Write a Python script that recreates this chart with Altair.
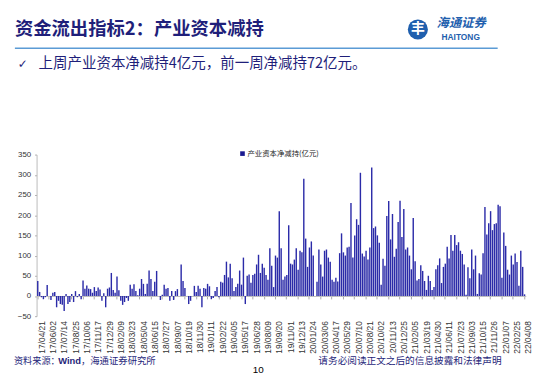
import altair as alt
import pandas as pd

# ---------------- text ----------------
title_text = "资金流出指标2：产业资本减持"
bullet_mark = "✓"
bullet_text = "上周产业资本净减持4亿元，前一周净减持72亿元。"
legend_label = "产业资本净减持(亿元)"
source_a = "资料来源："
source_b = "Wind"
source_c = "，海通证券研究所"
disclaimer = "请务必阅读正文之后的信息披露和法律声明"
page_no = "10"
logo_cn = "海通证券"
logo_en = "HAITONG"
logo_glyph = "丰"

# ---------------- data (weekly, 亿元) ----------------
values_a = [37, 10, -3, -8, -3, 27, 0, -10, 8, 10,
            -28, -12, -20, -22, -37, 5, -20, -15, 5, -15,
            12, -3, 5, -8, 38, 18, 26, 18, 17, 8,
            22, 12, 21, 16, -12, 7, -28, 18, 21, 57,
            15, 8, 48, 14, -12, -22, -15, -5, -12, 28,
            18, 29, 12, 2, 18, 42, 30, 5, 30, 63]
values_b = [42, 12, 35, 62, 0, -10, 3, 28, 18, 20,
            -12, 12, -10, 12, 17, 0, 78, 37, 20, 0,
            -20, -12, 0, 25, 10, 25, 18, -28, 20, 18,
            30, 24, -8, -5, 12, 22, -3, 35, 33,
            52, 85, 46, 80, 44, 12, 22, 30, 63, 28,
            95, -20, 50, 53, 33, 52, 55, 78, 102, 57,
            80, 70, 52, 40, 118, 75]
values_c = [22, 100, 95, 210, 118, 40, 48, 52, 175, 80,
            78, 90, 118, 65, 112, 108, 290, 142, 72, 120,
            135, 100, 0, 35, 115, 78, 48, 112, 115, 95,
            85, 40, 35, 45, 36, 106, 155, 108, 100,
            120, 122, 230, 95, 150, 190, 176, 305, 105, 98,
            112, 90, 120, 318, 168, 172, 150, 132, 28, 92]
values_d = [75, 198, 235, 140, 203, 97, 117, 183, 236, 146,
            215, 115, 120, 100, 66, 193, 86, 38, 42, 76,
            62, 37, 15, 50, 37, 15, 22, 66, 76, 93,
            32, 72, 80, 122, 93, 151, 112, 151, 126, 133,
            112, 104, 78, 3, 71, 44, 115, 66, 100, 5,
            56, 53, 106, 220, 152, 180, 210, 163, 178, 180,
            226, 222, 45, 157, 124, 65, 53, 100, 78, 105,
            84, 25, 112, 72, 4]
values = values_a + values_b + values_c + values_d

weeks = pd.date_range("2017-04-21", periods=260, freq="7D")
weeks = weeks[weeks != pd.Timestamp("2022-02-04")]
dates = [d.strftime("%y/%m/%d") for d in weeks]
tick_labels = dates[::6]
y_ticks = [-50, 0, 50, 100, 150, 200, 250, 300, 350]

df = pd.DataFrame({"date": dates, "value": values})

NAVY = "#1f1f7a"
BLUE = "#1f5fae"
CJK = "Noto Sans CJK SC"
LATIN = "Liberation Sans"

bars = alt.Chart(df).mark_bar(color="#2b2ba8").encode(
    x=alt.X("date:N", sort=None,
            scale=alt.Scale(paddingInner=0.25, paddingOuter=0.25),
            axis=alt.Axis(values=tick_labels, title=None, labelAngle=270,
                          labelFont=LATIN, labelFontSize=8.5, labelColor="#333333",
                          labelOverlap=False, labelPadding=22, labelOffset=4,
                          tickSize=3, tickColor="#aaaaaa", domainColor="#bbbbbb",
                          offset=-20.5)),
    y=alt.Y("value:Q", scale=alt.Scale(domain=[-50, 350], nice=False, zero=False),
            axis=alt.Axis(values=y_ticks, title=None, grid=False,
                          labelFont=LATIN, labelFontSize=8, labelColor="#333333",
                          tickSize=2, tickColor="#aaaaaa", domainColor="#bbbbbb",
                          labelPadding=4)),
)


def txt(s, x, y, size, color, weight="normal", align="left", font=CJK, style="normal"):
    return alt.Chart(pd.DataFrame({"t": [s]})).mark_text(
        align=align, baseline="middle", fontSize=size, font=font,
        fontWeight=weight, fontStyle=style, color=color
    ).encode(x=alt.value(x), y=alt.value(y), text="t:N")


# plot origin is at page (37, 154)
OX, OY = 37, 154

title_rule = alt.Chart(pd.DataFrame({"t": [0]})).mark_rule(
    color="#5b9bd5", strokeWidth=1.5
).encode(x=alt.value(15 - OX), x2=alt.value(505 - OX), y=alt.value(46 - OY))

logo_circle = alt.Chart(pd.DataFrame({"t": [0]})).mark_circle(
    size=415, color=BLUE, opacity=1
).encode(x=alt.value(424 - OX), y=alt.value(27 - OY))

legend_sq = alt.Chart(pd.DataFrame({"t": [0]})).mark_square(
    size=22, color="#1a1a90", opacity=1
).encode(x=alt.value(246 - OX), y=alt.value(153 - OY))

layers = [
    bars,
    title_rule,
    txt(title_text, 15 - OX, 27 - OY, 18.6, NAVY, weight="bold"),
    logo_circle,
    txt(logo_glyph, 424 - OX, 27 - OY, 14, "white", weight="bold", align="center"),
    txt(logo_cn, 443 - OX, 21 - OY, 12.5, BLUE, weight="bold", style="italic"),
    txt(logo_en, 448 - OX, 35 - OY, 8.5, BLUE, weight="bold", font=LATIN),
    txt(bullet_mark, 18 - OX, 62 - OY, 12, NAVY, font="DejaVu Sans"),
    txt(bullet_text, 39 - OX, 62 - OY, 14.7, NAVY),
    legend_sq,
    txt(legend_label, 251 - OX, 153 - OY, 7.5, "#222222"),
    txt(source_a, 14 - OX, 364 - OY, 9.3, NAVY),
    txt(source_b, 59 - OX, 364 - OY, 9.5, NAVY, weight="bold", font=LATIN),
    txt(source_c, 82 - OX, 364 - OY, 9.5, NAVY),
    txt(disclaimer, 323 - OX, 364 - OY, 9.8, NAVY),
    txt(page_no, 262 - OX, 373 - OY, 10, "black", align="center", font=LATIN),
]

chart = alt.layer(*layers).properties(
    width=496.5,
    height=164,
    autosize=alt.AutoSizeParams(type="none"),
    padding={"left": 29, "top": 146, "right": 16.5, "bottom": 62},
).configure_view(stroke=None)

chart.save("out.html", embed_options={"renderer": "svg", "actions": False})
